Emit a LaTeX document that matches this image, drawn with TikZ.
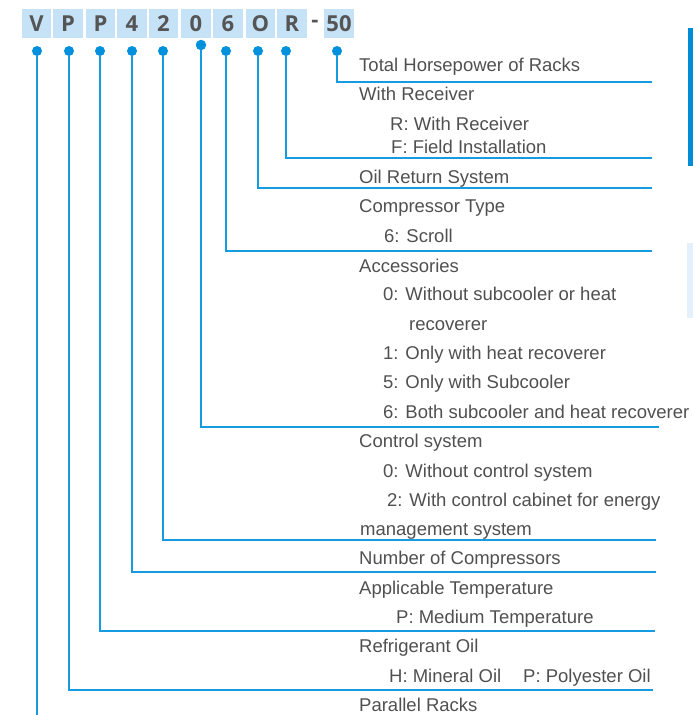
\documentclass[tikz,border=0pt]{standalone}
\usepackage{fontspec}
\setmainfont{Liberation Sans}
\newfontfamily\hdfont{Open Sans}
\definecolor{boxblue}{RGB}{198,226,246}
\definecolor{lineblue}{RGB}{20,155,225}
\definecolor{dotblue}{RGB}{0,145,220}
\definecolor{hdgray}{RGB}{85,85,85}
\definecolor{txtgray}{RGB}{80,80,80}
\definecolor{barblue}{RGB}{0,140,215}
\definecolor{panelblue}{RGB}{228,240,251}
\begin{document}
\begin{tikzpicture}[x=1pt,y=-1pt,
  code/.style={fill=boxblue, minimum width=29.5pt, minimum height=29pt, inner sep=0pt, font=\hdfont\bfseries\fontsize{22}{22}\selectfont, text=hdgray},
  lbl/.style={anchor=base west, inner sep=0pt, font=\fontsize{18.5}{20}\selectfont, text=txtgray},
  dotn/.style={circle, fill=dotblue, minimum size=10pt, inner sep=0pt},
  conn/.style={draw=lineblue, line width=2pt}]
\useasboundingbox (0,0) rectangle (693,715);
% side decorations
\fill[barblue] (688,28) rectangle (693,166);
\fill[panelblue] (687,243) rectangle (693,318);
% header code boxes
\node[code] (bV) at (36.5,23.5) {V};
\node[code] (bP1) at (68,23.5) {P};
\node[code] (bP2) at (100.5,23.5) {P};
\node[code] (b4) at (132,23.5) {4};
\node[code] (b2) at (163.5,23.5) {2};
\node[code] (b0) at (196,23.5) {0};
\node[code] (b6) at (228,23.5) {6};
\node[code] (bO) at (260.5,23.5) {O};
\node[code] (bR) at (292,23.5) {R};
\node[code, fill=none] (bdash) at (315,23.5) {-};
\node[code] (b50) at (339,23.5) {50};
% dots
\node[dotn] (dV) at (37,51) {};
\node[dotn] (dP1) at (69,51) {};
\node[dotn] (dP2) at (100,51) {};
\node[dotn] (d4) at (132,51) {};
\node[dotn] (d2) at (163,51) {};
\node[dotn, minimum size=10.5pt] (d0) at (201,45) {};
\node[dotn] (d6) at (226,51) {};
\node[dotn] (dO) at (258,51) {};
\node[dotn] (dR) at (286,51) {};
\node[dotn] (d50) at (337,51) {};
% line ends
\coordinate (e50) at (652,82);
\coordinate (eR) at (652,158);
\coordinate (eO) at (652,188);
\coordinate (e6) at (652,251);
\coordinate (e0) at (659,427);
\coordinate (e2) at (656,540);
\coordinate (e4) at (656,572);
\coordinate (eP2) at (655,631);
\coordinate (eP1) at (653,690);
\coordinate (eV) at (37,715);
% connectors
\draw[conn] (d50) |- (e50);
\draw[conn] (dR) |- (eR);
\draw[conn] (dO) |- (eO);
\draw[conn] (d6) |- (e6);
\draw[conn] (d0) |- (e0);
\draw[conn] (d2) |- (e2);
\draw[conn] (d4) |- (e4);
\draw[conn] (dP2) |- (eP2);
\draw[conn] (dP1) |- (eP1);
\draw[conn] (dV) -- (eV);
% labels
\node[lbl] (t1) at (359,71) {Total Horsepower of Racks};
\node[lbl] (t2) at (359,100) {With Receiver};
\node[lbl] (t3) at (390,130) {R: With Receiver};
\node[lbl] (t4) at (391,153) {F: Field Installation};
\node[lbl] (t5) at (359,183) {Oil Return System};
\node[lbl] (t6) at (359,212) {Compressor Type};
\node[lbl] (t7) at (384,242) {6: Scroll};
\node[lbl] (t8) at (359,272) {Accessories};
\node[lbl] (t9) at (383,300) {0: Without subcooler or heat};
\node[lbl] (t10) at (409,330) {recoverer};
\node[lbl] (t11) at (383,359) {1: Only with heat recoverer};
\node[lbl] (t12) at (383,388) {5: Only with Subcooler};
\node[lbl] (t13) at (383,418) {6: Both subcooler and heat recoverer};
\node[lbl] (t14) at (359,447) {Control system};
\node[lbl] (t15) at (383,477) {0: Without control system};
\node[lbl] (t16) at (387,506) {2: With control cabinet for energy};
\node[lbl] (t17) at (360,535) {management system};
\node[lbl] (t18) at (359,564) {Number of Compressors};
\node[lbl] (t19) at (359,594) {Applicable Temperature};
\node[lbl] (t20) at (396,623) {P: Medium Temperature};
\node[lbl] (t21) at (359,652) {Refrigerant Oil};
\node[lbl] (t22) at (389,682) {H: Mineral Oil};
\node[lbl] (t23) at (523,682) {P: Polyester Oil};
\node[lbl] (t24) at (359,711) {Parallel Racks};
\end{tikzpicture}
\end{document}
